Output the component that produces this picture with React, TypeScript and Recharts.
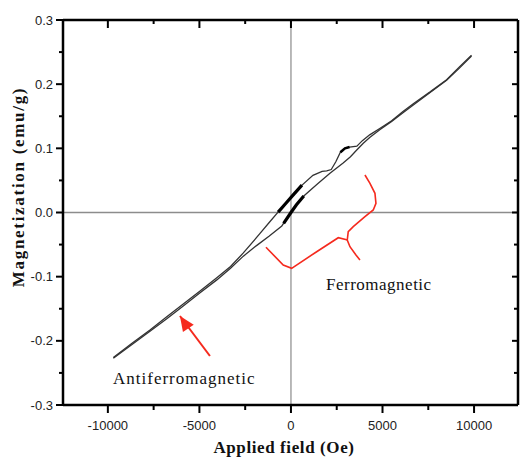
import { ComposedChart, Line, XAxis, YAxis, ReferenceLine } from "recharts";

// descending branch (upper on the left side of the loop)
const descField = [9860, 9200, 8500, 7600, 6700, 6100, 5500, 4850, 4300, 3900, 3600, 3200, 2950, 2700, 2450, 2200, 1950, 1700, 1200, 500, -100, -600, -1200, -1700, -2600, -3300, -4050, -5000, -5900, -6800, -7700, -8700, -9700];
const descMag = [0.245, 0.227, 0.207, 0.188, 0.17, 0.157, 0.143, 0.131, 0.121, 0.112, 0.1035, 0.102, 0.1, 0.094, 0.079, 0.067, 0.065, 0.064, 0.058, 0.04, 0.02, 0.004, -0.016, -0.033, -0.063, -0.084, -0.1015, -0.123, -0.143, -0.163, -0.183, -0.204, -0.226];

// ascending branch
const ascField = [-9700, -8700, -7700, -6800, -5900, -5000, -4050, -3300, -2600, -1900, -1200, -500, 0, 300, 670, 1100, 1490, 2130, 2850, 3250, 3580, 3950, 4300, 4850, 5500, 6100, 6700, 7600, 8500, 9200, 9860];
const ascMag = [-0.227, -0.206, -0.185, -0.166, -0.146, -0.126, -0.105, -0.087, -0.068, -0.052, -0.037, -0.021, 0.0, 0.012, 0.025, 0.036, 0.0455, 0.061, 0.077, 0.087, 0.097, 0.108, 0.117, 0.129, 0.142, 0.155, 0.168, 0.187, 0.206, 0.225, 0.244];

// stretches where the measured points are dense
const denseUpperField = [-700, -300, 100, 600];
const denseUpperMag = [0.0006, 0.0136, 0.0267, 0.0426];
const denseLowerField = [-400, 0, 300, 700];
const denseLowerMag = [-0.0168, 0.0, 0.012, 0.0258];
const denseMidField = [2700, 2950, 3200];
const denseMidMag = [0.094, 0.1, 0.102];

// red annotations
const braceField = [4041, 4315, 4588, 4642, 4495, 4041, 3403, 3129, 3075, 3222, 3550, 3768];
const braceMag = [0.0584, 0.0455, 0.0299, 0.0143, 0.0039, -0.0065, -0.0221, -0.0299, -0.0429, -0.0533, -0.0662, -0.074];
const braceArmField = [3097, 2583, 1404, 38, -421, -1365];
const braceArmMag = [-0.0429, -0.0393, -0.0611, -0.087, -0.0818, -0.0542];
const arrowField = [-6062, -4424];
const arrowMag = [-0.1613, -0.2236];

const xTicks = [-10000, -7500, -5000, -2500, 0, 2500, 5000, 7500, 10000];
const yTicks = [-0.3, -0.25, -0.2, -0.15, -0.1, -0.05, 0, 0.05, 0.1, 0.15, 0.2, 0.25, 0.3];

const X_DOMAIN: [number, number] = [-12450, 12400];
const Y_DOMAIN: [number, number] = [-0.3, 0.3];

const W = 521;
const H = 458;
const MARGIN = { top: 20, right: 3, left: 62, bottom: 52 };
// plot box (axis widths of 1px are added to left/bottom)
const PLOT = { left: MARGIN.left + 1, top: MARGIN.top, right: W - MARGIN.right, bottom: H - MARGIN.bottom - 1 };
// same mapping the chart uses, for the closed frame drawn in the overlay
const fx = (f: number) => PLOT.left + ((f - X_DOMAIN[0]) / (X_DOMAIN[1] - X_DOMAIN[0])) * (PLOT.right - PLOT.left);
const fy = (m: number) => PLOT.bottom - ((m - Y_DOMAIN[0]) / (Y_DOMAIN[1] - Y_DOMAIN[0])) * (PLOT.bottom - PLOT.top);

const rows = (fs: number[], ms: number[]) => fs.map((f, i) => ({ f, m: ms[i] }));

const RED = "#f52a1e";
const tickFont = { fontFamily: "'Liberation Sans', Arial, sans-serif", fontSize: 13, fill: "#222" };

const isMajorX = (v: number) => v % 5000 === 0;
const isMajorY = (v: number) => Math.abs(v * 10 - Math.round(v * 10)) < 1e-6;

const BottomTick = (p: any) => {
  const v = p.payload.value;
  const major = isMajorX(v);
  return (
    <g>
      <line x1={p.x} x2={p.x} y1={p.y} y2={p.y + (major ? 8 : 5)} stroke="#000" strokeWidth={2} />
      {major && (
        <text x={p.x} y={p.y + 25} textAnchor="middle" {...tickFont}>
          {v}
        </text>
      )}
    </g>
  );
};

const LeftTick = (p: any) => {
  const v = p.payload.value;
  const major = isMajorY(v);
  return (
    <g>
      <line x1={p.x} x2={p.x - (major ? 7 : 4)} y1={p.y} y2={p.y} stroke="#000" strokeWidth={2} />
      {major && (
        <text x={p.x - 10} y={p.y + 4.5} textAnchor="end" {...tickFont}>
          {v.toFixed(1)}
        </text>
      )}
    </g>
  );
};

const ArrowHead = (p: any) => {
  if (p.index !== 0) return <g key={`ah${p.index}`} />;
  return (
    <polygon
      key="ah0"
      points="0,0 -15,-6.5 -15,6.5"
      fill={RED}
      transform={`translate(${p.cx},${p.cy}) rotate(-124)`}
    />
  );
};

const serif = "'Liberation Serif', 'Times New Roman', serif";

export default function App() {
  return (
    <div style={{ position: "absolute", left: 0, top: 0, width: W, height: H, background: "#fff" }}>
      <ComposedChart width={W} height={H} margin={MARGIN}>
        <XAxis
          type="number"
          dataKey="f"
          domain={X_DOMAIN}
          ticks={xTicks}
          interval={0}
          height={1}
          tickSize={0}
          tickMargin={0}
          tickLine={false}
          tick={<BottomTick />}
          axisLine={{ stroke: "#000", strokeWidth: 2.5 }}
        />
        <YAxis
          type="number"
          dataKey="m"
          domain={Y_DOMAIN}
          ticks={yTicks}
          interval={0}
          width={1}
          tickSize={0}
          tickMargin={0}
          tickLine={false}
          tick={<LeftTick />}
          axisLine={{ stroke: "#000", strokeWidth: 2.5 }}
        />
        <ReferenceLine x={0} stroke="#a8a8a8" strokeWidth={1.6} />
        <ReferenceLine y={0} stroke="#8c8c8c" strokeWidth={1.6} />

        <Line data={rows(descField, descMag)} dataKey="m" type="linear" stroke="#333" strokeWidth={1.3} dot={false} activeDot={false} isAnimationActive={false} />
        <Line data={rows(ascField, ascMag)} dataKey="m" type="linear" stroke="#333" strokeWidth={1.3} dot={false} activeDot={false} isAnimationActive={false} />
        <Line data={rows(denseUpperField, denseUpperMag)} dataKey="m" type="linear" stroke="#000" strokeWidth={3.2} dot={false} activeDot={false} isAnimationActive={false} />
        <Line data={rows(denseLowerField, denseLowerMag)} dataKey="m" type="linear" stroke="#000" strokeWidth={3.2} dot={false} activeDot={false} isAnimationActive={false} />
        <Line data={rows(denseMidField, denseMidMag)} dataKey="m" type="linear" stroke="#000" strokeWidth={2.6} dot={false} activeDot={false} isAnimationActive={false} />

        <Line data={rows(braceField, braceMag)} dataKey="m" type="linear" stroke={RED} strokeWidth={1.6} dot={false} activeDot={false} isAnimationActive={false} />
        <Line data={rows(braceArmField, braceArmMag)} dataKey="m" type="linear" stroke={RED} strokeWidth={1.6} dot={false} activeDot={false} isAnimationActive={false} />
        <Line data={rows(arrowField, arrowMag)} dataKey="m" type="linear" stroke={RED} strokeWidth={2} dot={ArrowHead} activeDot={false} isAnimationActive={false} />
      </ComposedChart>

      <svg width={W} height={H} style={{ position: "absolute", left: 0, top: 0, pointerEvents: "none" }}>
        {/* top and right sides of the box with inward ticks */}
        <line x1={PLOT.left} y1={PLOT.top} x2={PLOT.right} y2={PLOT.top} stroke="#000" strokeWidth={2.5} />
        <line x1={PLOT.right} y1={PLOT.top} x2={PLOT.right} y2={PLOT.bottom} stroke="#000" strokeWidth={2.5} />
        {xTicks.map((v) => (
          <line key={`t${v}`} x1={fx(v)} x2={fx(v)} y1={PLOT.top} y2={PLOT.top + (isMajorX(v) ? 8 : 4)} stroke="#000" strokeWidth={2} />
        ))}
        {yTicks.map((v) => (
          <line key={`r${v}`} x1={PLOT.right} x2={PLOT.right - (isMajorY(v) ? 6 : 4)} y1={fy(v)} y2={fy(v)} stroke="#000" strokeWidth={2} />
        ))}

        <text x={284} y={453} textAnchor="middle" fontFamily={serif} fontWeight="bold" fontSize={17} letterSpacing={0.6} fill="#111">
          Applied field (Oe)
        </text>
        <text transform="translate(24,187) rotate(-90)" textAnchor="middle" fontFamily={serif} fontWeight="bold" fontSize={17} letterSpacing={1.7} fill="#111">
          Magnetization (emu/g)
        </text>
        <text x={326} y={290} fontFamily={serif} fontSize={17} letterSpacing={0.5} fill="#111">
          Ferromagnetic
        </text>
        <text x={113} y={384} fontFamily={serif} fontSize={17} letterSpacing={1} fill="#111">
          Antiferromagnetic
        </text>
      </svg>
    </div>
  );
}
